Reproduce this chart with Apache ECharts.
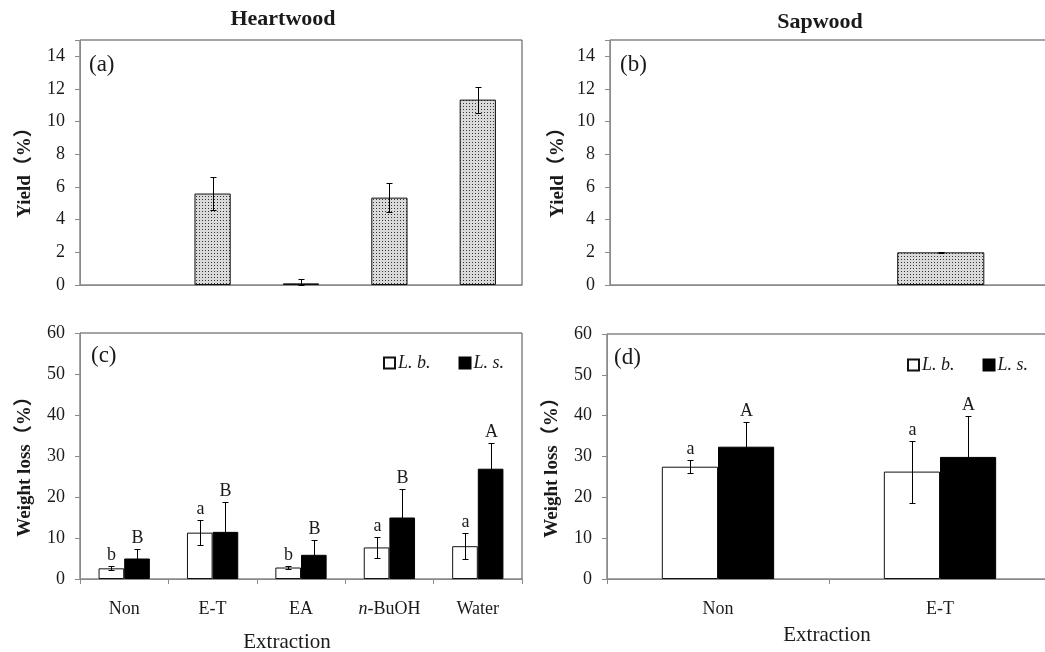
<!DOCTYPE html>
<html>
<head>
<meta charset="utf-8">
<title>Heartwood / Sapwood extraction</title>
<script src="https://cdn.jsdelivr.net/npm/echarts@6.0.0/dist/echarts.min.js"></script>
<style>
  html, body { margin: 0; padding: 0; background: #ffffff; }
  #chart { width: 1045px; height: 652px; }
</style>
</head>
<body>
<div id="chart"></div>
<script>
// ---- categories ----
const heartCats = ['Non', 'E-T', 'EA', 'n-BuOH', 'Water'];
const sapCats = ['Non', 'E-T'];

// ---- yield (%) of extractives, mean and standard deviation ----
const yieldHeart = [null, 5.6, 0.1, 5.35, 11.35];
const yieldHeartSd = [null, 1.0, 0.25, 0.88, 0.8];
const yieldSap = [null, 2.0];
const yieldSapSd = [null, 0.05];

// ---- weight loss (%) of treated wood, heartwood ----
const lossHeartLb = [2.6, 11.3, 2.8, 7.7, 8.0];
const lossHeartLbSd = [0.5, 3.1, 0.4, 2.6, 3.1];
const lossHeartLs = [5.0, 11.5, 5.9, 15.0, 26.9];
const lossHeartLsSd = [2.2, 7.4, 3.6, 7.0, 6.3];
const lossHeartLbLetters = ['b', 'a', 'b', 'a', 'a'];
const lossHeartLsLetters = ['B', 'B', 'B', 'B', 'A'];

// ---- weight loss (%) of treated wood, sapwood ----
const lossSapLb = [27.5, 26.3];
const lossSapLbSd = [1.6, 7.6];
const lossSapLs = [32.4, 29.9];
const lossSapLsSd = [6.0, 10.0];
const lossSapLbLetters = ['a', 'a'];
const lossSapLsLetters = ['A', 'A'];

// ---- axis ticks ----
const yieldTicks = { min: 0, max: 15, interval: 2 };
const lossTicks = { min: 0, max: 60, interval: 10 };

const seriesNames = ['L. b.', 'L. s.'];

const FONT = "'Liberation Serif', 'Times New Roman', 'Noto Sans CJK SC', serif";
const TEXT = '#1a1a1a';
const AXIS = '#8a8a8a';

// stippled fill used for the yield bars
function stipple() {
  const c = document.createElement('canvas');
  c.width = 3; c.height = 3;
  const g = c.getContext('2d');
  g.fillStyle = '#dadada';
  g.fillRect(0, 0, 3, 3);
  g.fillStyle = '#333333';
  g.fillRect(1, 1, 1, 1);
  return { image: c, repeat: 'repeat' };
}
const dotFill = stipple();

// error bar (+ optional significance letter) drawn on the data scale
function errorSeries(axisIdx, values, sds, letters, offsetFrac, capHalf) {
  const data = values.map((v, i) => [i, v == null ? NaN : v, sds[i] == null ? 0 : sds[i]]);
  return {
    type: 'custom',
    xAxisIndex: axisIdx,
    yAxisIndex: axisIdx,
    data: data,
    z: 5,
    silent: true,
    renderItem: function (params, api) {
      const v = api.value(1);
      if (isNaN(v)) return;
      const sd = api.value(2);
      const i = api.value(0);
      const band = api.size([1, 0])[0];
      const base = api.coord([i, v]);
      const x = Math.round(base[0] + offsetFrac * band) + 0.5;
      const yHi = Math.round(api.coord([i, v + sd])[1]) + 0.5;
      const yLo = Math.round(api.coord([i, Math.max(v - sd, 0)])[1]) + 0.5;
      const ls = { stroke: '#000', lineWidth: 1 };
      const kids = [
        { type: 'line', shape: { x1: x, y1: yHi, x2: x, y2: yLo }, style: ls },
        { type: 'line', shape: { x1: x - capHalf, y1: yHi, x2: x + capHalf, y2: yHi }, style: ls },
        { type: 'line', shape: { x1: x - capHalf, y1: yLo, x2: x + capHalf, y2: yLo }, style: ls }
      ];
      if (letters) {
        kids.push({
          type: 'text',
          style: {
            text: letters[params.dataIndex],
            x: x, y: yHi - 2,
            align: 'center', verticalAlign: 'bottom',
            fill: TEXT, font: '18px ' + FONT
          }
        });
      }
      return { type: 'group', children: kids };
    }
  };
}

function yAxis(gridIndex, ticks) {
  return {
    type: 'value', gridIndex: gridIndex,
    min: ticks.min, max: ticks.max, interval: ticks.interval,
    splitLine: { show: false },
    axisLine: { show: true, lineStyle: { color: AXIS, width: 1 } },
    axisTick: { show: true, inside: false, length: 5, lineStyle: { color: AXIS } },
    axisLabel: {
      margin: 15, color: TEXT, fontSize: 18, fontFamily: FONT,
      formatter: v => (v % ticks.interval === 0 ? String(v) : '')
    }
  };
}

function xAxis(gridIndex, cats, showLabels) {
  return {
    type: 'category', gridIndex: gridIndex, data: cats, boundaryGap: true,
    axisLine: { show: true, lineStyle: { color: AXIS, width: 1 } },
    axisTick: { show: showLabels, inside: false, length: 5, interval: 0, lineStyle: { color: AXIS } },
    axisLabel: {
      show: showLabels, interval: 0, hideOverlap: false,
      margin: 21, color: TEXT, fontSize: 18, fontFamily: FONT,
      formatter: v => (v === 'n-BuOH' ? '{i|n}-BuOH' : v),
      rich: { i: { fontStyle: 'italic', fontSize: 18, fontFamily: FONT, color: TEXT } }
    }
  };
}

const gridStyle = {
  show: true, borderColor: '#4a4a4a', borderWidth: 1, backgroundColor: 'transparent',
  containLabel: false, outerBoundsMode: 'none'
};

function label(x, y, str, font, align, rotation) {
  return {
    type: 'text', x: x, y: y, silent: true, rotation: rotation || 0,
    style: { text: str, font: font, fill: TEXT, align: align || 'center', verticalAlign: 'middle' }
  };
}

const chart = echarts.init(document.getElementById('chart'), null, { renderer: 'canvas' });

chart.setOption({
  backgroundColor: '#ffffff',
  animation: false,
  grid: [
    Object.assign({ left: 80, top: 40, width: 442, height: 245 }, gridStyle),
    Object.assign({ left: 610, top: 40, width: 441, height: 245 }, gridStyle),
    Object.assign({ left: 80, top: 333, width: 442, height: 246 }, gridStyle),
    Object.assign({ left: 607, top: 334, width: 444, height: 245 }, gridStyle)
  ],
  xAxis: [
    xAxis(0, heartCats, false),
    xAxis(1, sapCats, false),
    xAxis(2, heartCats, true),
    xAxis(3, sapCats, true)
  ],
  yAxis: [
    yAxis(0, yieldTicks),
    yAxis(1, yieldTicks),
    yAxis(2, lossTicks),
    yAxis(3, lossTicks)
  ],
  legend: [
    {
      left: 378, top: 349, itemWidth: 11, itemHeight: 11, itemGap: 28,
      icon: 'rect', data: seriesNames, selectedMode: false,
      textStyle: { fontFamily: FONT, fontStyle: 'italic', fontSize: 18, color: TEXT, padding: [0, 0, 0, -2] }
    },
    {
      left: 902, top: 351, itemWidth: 11, itemHeight: 11, itemGap: 28,
      icon: 'rect', data: seriesNames, selectedMode: false,
      textStyle: { fontFamily: FONT, fontStyle: 'italic', fontSize: 18, color: TEXT, padding: [0, 0, 0, -2] }
    }
  ],
  series: [
    // (a) heartwood yield
    {
      type: 'bar', name: 'yield-heart', xAxisIndex: 0, yAxisIndex: 0,
      data: yieldHeart, barWidth: '41%',
      itemStyle: { color: dotFill, borderColor: '#111', borderWidth: 1 }
    },
    // (b) sapwood yield
    {
      type: 'bar', name: 'yield-sap', xAxisIndex: 1, yAxisIndex: 1,
      data: yieldSap, barWidth: '39.5%',
      itemStyle: { color: dotFill, borderColor: '#111', borderWidth: 1 }
    },
    // (c) heartwood weight loss
    {
      type: 'bar', name: seriesNames[0], xAxisIndex: 2, yAxisIndex: 2,
      data: lossHeartLb, barWidth: '29%', barGap: '0%',
      itemStyle: { color: '#ffffff', borderColor: '#111', borderWidth: 1 }
    },
    {
      type: 'bar', name: seriesNames[1], xAxisIndex: 2, yAxisIndex: 2,
      data: lossHeartLs, barWidth: '29%', barGap: '0%',
      itemStyle: { color: '#000000', borderColor: '#000', borderWidth: 1 }
    },
    // (d) sapwood weight loss
    {
      type: 'bar', name: seriesNames[0], xAxisIndex: 3, yAxisIndex: 3,
      data: lossSapLb, barWidth: '25.3%', barGap: '0%',
      itemStyle: { color: '#ffffff', borderColor: '#111', borderWidth: 1 }
    },
    {
      type: 'bar', name: seriesNames[1], xAxisIndex: 3, yAxisIndex: 3,
      data: lossSapLs, barWidth: '25.3%', barGap: '0%',
      itemStyle: { color: '#000000', borderColor: '#000', borderWidth: 1 }
    },
    // error bars
    errorSeries(0, yieldHeart, yieldHeartSd, null, 0, 3),
    errorSeries(1, yieldSap, yieldSapSd, null, 0, 3),
    errorSeries(2, lossHeartLb, lossHeartLbSd, lossHeartLbLetters, -0.145, 3),
    errorSeries(2, lossHeartLs, lossHeartLsSd, lossHeartLsLetters, 0.145, 3),
    errorSeries(3, lossSapLb, lossSapLbSd, lossSapLbLetters, -0.1265, 3),
    errorSeries(3, lossSapLs, lossSapLsSd, lossSapLsLetters, 0.1265, 3)
  ],
  graphic: [
    label(283, 19, 'Heartwood', 'bold 22px ' + FONT),
    label(820, 22, 'Sapwood', 'bold 22px ' + FONT),
    label(89, 65, '(a)', '23px ' + FONT, 'left'),
    label(620, 65, '(b)', '23px ' + FONT, 'left'),
    label(91, 356, '(c)', '23px ' + FONT, 'left'),
    label(614, 358, '(d)', '23px ' + FONT, 'left'),
    label(25, 168, 'Yield（%）', 'bold 19px ' + FONT, 'center', Math.PI / 2),
    label(558, 168, 'Yield（%）', 'bold 19px ' + FONT, 'center', Math.PI / 2),
    label(25, 462, 'Weight loss（%）', 'bold 19px ' + FONT, 'center', Math.PI / 2),
    label(552, 463, 'Weight loss（%）', 'bold 19px ' + FONT, 'center', Math.PI / 2),
    label(287, 642, 'Extraction', '21px ' + FONT),
    label(827, 635, 'Extraction', '21px ' + FONT)
  ]
});
</script>
</body>
</html>
